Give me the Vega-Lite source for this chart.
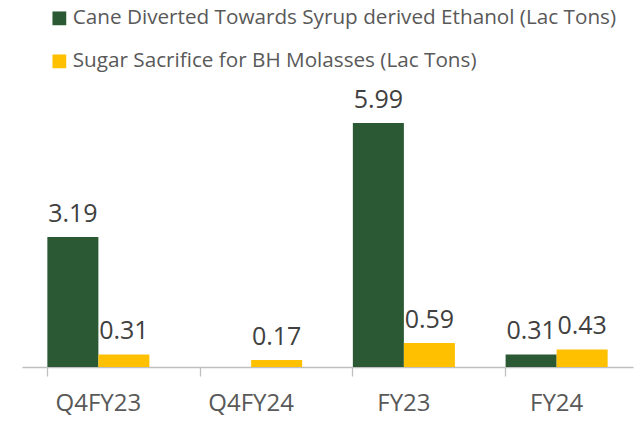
{
  "$schema": "https://vega.github.io/schema/vega-lite/v6.json",
  "width": 611,
  "height": 285,
  "autosize": {"type": "none"},
  "padding": {"left": 22, "top": 82, "right": 9, "bottom": 55},
  "background": "white",
  "config": {"view": {"stroke": null}, "font": "Open Sans"},
  "data": {"values": [
    {"period": "Q4FY23", "series": "Cane Diverted Towards Syrup derived Ethanol (Lac Tons)", "value": 3.19},
    {"period": "Q4FY23", "series": "Sugar Sacrifice for BH Molasses (Lac Tons)", "value": 0.31},
    {"period": "Q4FY24", "series": "Sugar Sacrifice for BH Molasses (Lac Tons)", "value": 0.17},
    {"period": "FY23", "series": "Cane Diverted Towards Syrup derived Ethanol (Lac Tons)", "value": 5.99},
    {"period": "FY23", "series": "Sugar Sacrifice for BH Molasses (Lac Tons)", "value": 0.59},
    {"period": "FY24", "series": "Cane Diverted Towards Syrup derived Ethanol (Lac Tons)", "value": 0.31},
    {"period": "FY24", "series": "Sugar Sacrifice for BH Molasses (Lac Tons)", "value": 0.43}
  ]},
  "encoding": {
    "x": {"field": "period", "type": "nominal", "sort": ["Q4FY23", "Q4FY24", "FY23", "FY24"],
      "scale": {"paddingInner": 0.332, "paddingOuter": 0.166},
      "axis": {"title": null, "labelAngle": 0, "labelFontSize": 24, "labelColor": "#595959", "labelPadding": 15,
        "tickSize": 9, "tickColor": "#BFBFBF", "domainColor": "#BFBFBF", "tickWidth": 1.3, "domainWidth": 1.3, "bandPosition": 0, "grid": false}},
    "xOffset": {"field": "series", "type": "nominal", "sort": ["Cane Diverted Towards Syrup derived Ethanol (Lac Tons)", "Sugar Sacrifice for BH Molasses (Lac Tons)"]},
    "y": {"field": "value", "type": "quantitative", "scale": {"domain": [0, 7]}, "axis": null}
  },
  "layer": [
    {"mark": {"type": "bar"},
     "encoding": {"color": {"field": "series", "type": "nominal",
       "sort": ["Cane Diverted Towards Syrup derived Ethanol (Lac Tons)", "Sugar Sacrifice for BH Molasses (Lac Tons)"],
       "scale": {"range": ["#2A5934", "#FFC000"]},
       "legend": {"title": null, "orient": "none", "legendX": 27, "legendY": -74, "direction": "vertical",
         "symbolType": "square", "symbolSize": 190, "symbolStrokeWidth": 0, "labelFontSize": 20.7, "labelColor": "#595959",
         "rowPadding": 21, "labelOffset": 3, "labelLimit": 700}}}},
    {"mark": {"type": "text", "baseline": "alphabetic", "dy": -15, "fontSize": 25, "color": "#404040"},
     "encoding": {"text": {"field": "value", "type": "quantitative", "format": ".2f"}}}
  ]
}
